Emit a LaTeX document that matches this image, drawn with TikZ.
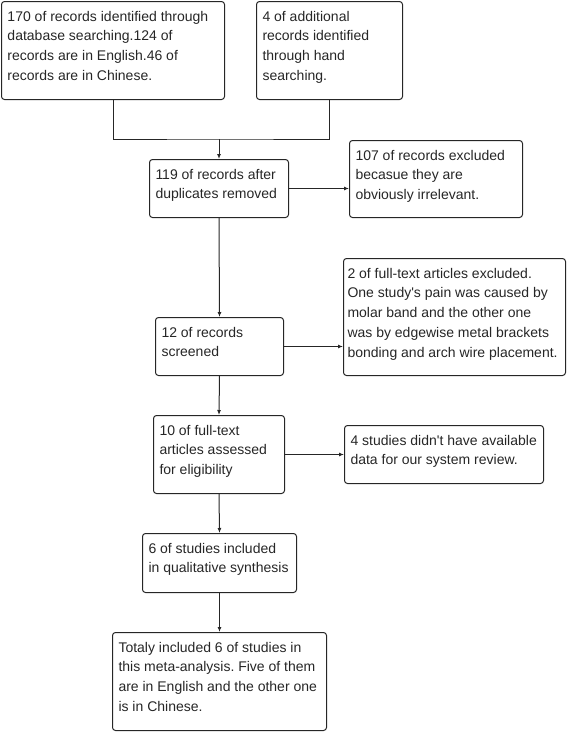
\documentclass[tikz,border=0pt]{standalone}
\usepackage{fontspec}
\setmainfont{Liberation Sans}[Ligatures=TeXOff]
\usetikzlibrary{arrows.meta}
\frenchspacing
\newcommand{\boxtext}[3]{\parbox[c][#2][t]{#1}{\raggedright\strut #3}}

\begin{document}
\begin{tikzpicture}[x=1pt, y=-1pt, line width=1pt, >={Latex[length=5pt,width=4pt]},
        block/.style={rectangle, draw=black!85, text=black!85, rounded corners=3pt, anchor=north west, inner sep=6pt,
            font=\fontsize{14}{19.7}\selectfont}]
        \useasboundingbox (0,0) rectangle (567,732);
        % sources
        \node[block] (dbsearch) at (1,1) {\boxtext{211pt}{86pt}{170 of records identified through\\ database searching.124 of\\ records are in English.46 of\\ records are in Chinese.}};
        \node[block] (handsearch) at (256,1) {\boxtext{134pt}{86pt}{4 of additional\\ records identified\\ through hand\\ searching.}};
        % main flow
        \node[block] (dedup) at (149,159) {\boxtext{127pt}{46pt}{119 of records after\\ duplicates removed}};
        \node[block] (screened) at (155,317) {\boxtext{116pt}{46pt}{12 of records\\ screened}};
        \node[block] (eligible) at (153,415) {\boxtext{119pt}{66pt}{10 of full-text\\ articles assessed\\ for eligibility}};
        \node[block] (qualit) at (142,533) {\boxtext{142pt}{47pt}{6 of studies included\\ in qualitative synthesis}};
        \node[block] (metaan) at (112,632) {\boxtext{202pt}{86pt}{Totaly included 6 of studies in\\ this meta-analysis. Five of them\\ are in English and the other one\\ is in Chinese.}};
        % exclusions
        \node[block] (excl1) at (349,140) {\boxtext{161pt}{65pt}{107 of records excluded\\ becasue they are\\ obviously irrelevant.}};
        \node[block, inner xsep=4pt] (excl2) at (343,258) {\boxtext{214pt}{105pt}{2 of full-text articles excluded.\\ One study's pain was caused by\\ molar band and the other one\\ was by edgewise metal brackets\\ bonding and arch wire placement.}};
        \node[block] (excl3) at (344,425) {\boxtext{187pt}{46pt}{4 studies didn't have available\\ data for our system review.}};

        \coordinate (merge) at (dedup.north |- 0,139);
        \draw[black!85] (dbsearch.south) |- (merge) -| (handsearch.south);
        \draw[->, black!85] (merge) -- (dedup.north);
        \draw[->, black!85] (dedup.east) -- (dedup.east -| excl1.west);
        \draw[->, black!85] (dedup.south) -- (screened.north);
        \draw[->, black!85] (screened.east) -- (screened.east -| excl2.west);
        \draw[->, black!85] (screened.south) -- (eligible.north);
        \draw[->, black!85] (eligible.east) -- (eligible.east -| excl3.west);
        \draw[->, black!85] (eligible.south) -- (qualit.north);
        \draw[->, black!85] (qualit.south) -- (metaan.north);
    \end{tikzpicture}
\end{document}
